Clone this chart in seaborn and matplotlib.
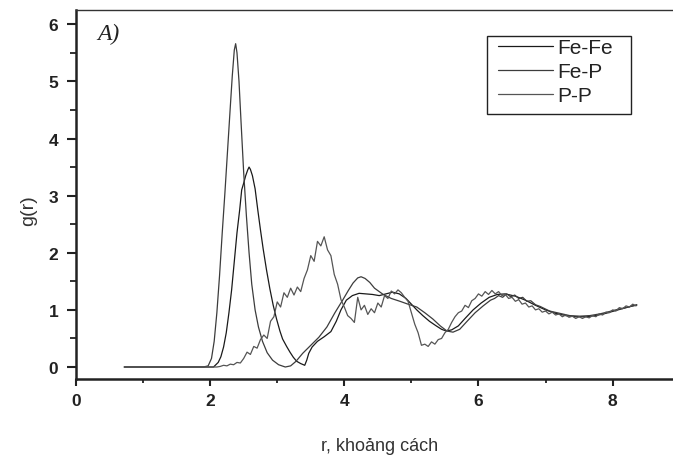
import numpy as np
import pandas as pd
import matplotlib
matplotlib.use("Agg")
import matplotlib.pyplot as plt
import seaborn as sns
from matplotlib.ticker import MultipleLocator
from matplotlib.patches import Rectangle

# ---------------- data ----------------
series_names = ["Fe-Fe", "Fe-P", "P-P"]

fep_r = [0.72, 1.90, 1.97, 2.02, 2.06, 2.10, 2.14, 2.18, 2.22, 2.26, 2.30, 2.33, 2.36, 2.38,
         2.40, 2.43, 2.46, 2.50, 2.54, 2.58, 2.62, 2.67, 2.72, 2.78, 2.85, 2.93, 3.02, 3.12,
         3.20, 3.28, 3.38, 3.50, 3.62, 3.74, 3.86, 3.98, 4.06, 4.13, 4.20, 4.25, 4.31, 4.38,
         4.45, 4.58, 4.70, 4.83, 4.95, 5.08, 5.20, 5.32, 5.43, 5.53, 5.62, 5.72, 5.83, 5.95,
         6.07, 6.18, 6.24, 6.30, 6.36, 6.42, 6.48, 6.54, 6.60, 6.66, 6.72, 6.78, 6.85, 6.92,
         7.06, 7.21, 7.36, 7.51, 7.66, 7.81, 7.95, 8.08, 8.20, 8.30, 8.36]
fep_g = [0.0, 0.0, 0.02, 0.15, 0.45, 0.95, 1.6, 2.35, 3.05, 3.8, 4.55, 5.1, 5.55, 5.66,
         5.5, 5.0, 4.3, 3.4, 2.65, 2.0, 1.45, 1.0, 0.7, 0.45, 0.25, 0.12, 0.04, 0.0,
         0.02, 0.1, 0.24, 0.38, 0.52, 0.7, 0.95, 1.18, 1.34, 1.47, 1.56, 1.58, 1.55, 1.48,
         1.38, 1.27, 1.2, 1.15, 1.1, 1.05, 0.95, 0.84, 0.72, 0.63, 0.61, 0.66, 0.8, 0.95,
         1.07, 1.17, 1.2, 1.25, 1.22, 1.28, 1.23, 1.26, 1.2, 1.22, 1.15, 1.16, 1.09, 1.06,
         0.98, 0.94, 0.9, 0.89, 0.9, 0.93, 0.97, 1.01, 1.04, 1.07, 1.08]

fefe_r = [0.72, 1.98, 2.05, 2.12, 2.16, 2.20, 2.24, 2.28, 2.32, 2.36, 2.40, 2.44, 2.47, 2.50,
          2.53, 2.56, 2.58, 2.60, 2.63, 2.67, 2.71, 2.75, 2.79, 2.84, 2.89, 2.94, 2.99, 3.04,
          3.08, 3.14, 3.19, 3.24, 3.29, 3.35, 3.41, 3.44, 3.47, 3.52, 3.60, 3.70, 3.80, 3.88,
          3.95, 4.03, 4.12, 4.22, 4.32, 4.42, 4.52, 4.62, 4.72, 4.82, 4.92, 5.00, 5.08, 5.17,
          5.27, 5.37, 5.45, 5.52, 5.60, 5.70, 5.80, 5.92, 6.04, 6.16, 6.28, 6.40, 6.55, 6.70,
          6.85, 7.00, 7.15, 7.30, 7.45, 7.60, 7.75, 7.90, 8.05, 8.20, 8.30, 8.36]
fefe_g = [0.0, 0.0, 0.0, 0.08, 0.18, 0.35, 0.6, 0.95, 1.35, 1.85, 2.35, 2.75, 3.1, 3.22,
          3.35, 3.45, 3.5, 3.46, 3.35, 3.12, 2.75, 2.4, 2.07, 1.7, 1.37, 1.08, 0.84, 0.63,
          0.49, 0.36, 0.26, 0.17, 0.1, 0.06, 0.03, 0.12, 0.24, 0.35, 0.45, 0.53, 0.62, 0.8,
          1.0, 1.17, 1.25, 1.29, 1.28, 1.27, 1.25, 1.28, 1.31, 1.28, 1.2, 1.1, 1.0, 0.9,
          0.8, 0.72, 0.66, 0.63, 0.65, 0.72, 0.85, 1.0, 1.12, 1.22, 1.27, 1.28, 1.24, 1.17,
          1.08, 1.0, 0.94, 0.9, 0.88, 0.88, 0.9, 0.94, 0.99, 1.04, 1.07, 1.09]

pp_r = [0.72, 2.05] + list(np.round(np.arange(2.10, 8.36, 0.05), 2))
pp_g = [0.0, 0.0,
        0.0, 0.01, 0.03, 0.02, 0.05, 0.04, 0.08, 0.07,
        0.15, 0.26, 0.22, 0.36, 0.33, 0.48, 0.56, 0.5, 0.8, 0.88,
        1.14, 1.05, 1.3, 1.22, 1.38, 1.26, 1.4, 1.32, 1.55, 1.7,
        1.95, 1.85, 2.2, 2.12, 2.28, 2.05, 1.95, 1.62, 1.45, 1.18,
        1.05, 0.9, 0.85, 0.78, 1.22, 1.0, 1.08, 0.92, 1.02, 0.95,
        1.12, 1.05, 1.25, 1.2, 1.33, 1.28, 1.35, 1.3, 1.22, 1.15,
        0.95, 0.75, 0.6, 0.38, 0.4, 0.36, 0.44, 0.4, 0.48, 0.5,
        0.6, 0.66, 0.78, 0.88, 0.95, 0.98, 1.08, 1.04, 1.16, 1.2,
        1.28, 1.24, 1.32, 1.27, 1.34, 1.28, 1.32, 1.25, 1.27, 1.2,
        1.22, 1.15, 1.18, 1.1, 1.12, 1.05, 1.07, 1.0, 1.02, 0.96,
        0.98, 0.93, 0.96, 0.91, 0.93, 0.88, 0.91, 0.87, 0.89, 0.85,
        0.88, 0.85, 0.88, 0.86, 0.9, 0.88, 0.93, 0.91, 0.96, 0.95,
        1.0, 0.98, 1.04, 1.02, 1.07, 1.05, 1.1, 1.07]

x_ticks = [0, 2, 4, 6, 8]
y_ticks = [0, 1, 2, 3, 4, 5, 6]

# ---------------- build table ----------------
frames = []
for name, r, g in [("Fe-Fe", fefe_r, fefe_g), ("Fe-P", fep_r, fep_g), ("P-P", pp_r, pp_g)]:
    n = min(len(r), len(g))
    frames.append(pd.DataFrame({"r": r[:n], "g": g[:n], "pair": name}))
df = pd.concat(frames, ignore_index=True)

# ---------------- plot ----------------
sns.set_theme(style="ticks")
plt.rcParams["font.family"] = ["Liberation Sans", "DejaVu Sans"]

W, H = 673, 460
ax_left, ax_top, ax_bottom = 76, 11, 380
fig = plt.figure(figsize=(W / 100, H / 100), dpi=100)
ax = fig.add_axes([ax_left / W, (H - ax_bottom) / H, (W - ax_left) / W,
                   (ax_bottom - ax_top) / H])
ax_w = W - ax_left
ax_h = ax_bottom - ax_top


def axpt(px, py):
    """figure pixel (from top-left) -> axes fraction"""
    return ((px - ax_left) / ax_w, (ax_bottom - py) / ax_h)


palette = {"Fe-Fe": "#1a1a1a", "Fe-P": "#3c3c3c", "P-P": "#555555"}
sns.lineplot(data=df, x="r", y="g", hue="pair", hue_order=series_names,
             palette=palette, estimator=None, sort=False, linewidth=0.9, ax=ax)

ax.set_xlim(0, 8.9)
ax.set_ylim(-0.21, 6.25)
ax.set_xticks(x_ticks)
ax.set_yticks(y_ticks)
ax.xaxis.set_minor_locator(MultipleLocator(1))
ax.yaxis.set_minor_locator(MultipleLocator(0.5))
ax.tick_params(axis="y", which="major", direction="out", length=6.7, width=1.5,
               color="#222222", labelsize=12.5, pad=6)
ax.tick_params(axis="y", which="minor", direction="out", length=4, width=1.3, color="#222222")
ax.tick_params(axis="x", which="major", direction="out", length=5, width=1.5,
               color="#222222", labelsize=12.5, pad=5)
ax.tick_params(axis="x", which="minor", direction="out", length=2.7, width=1.3, color="#222222")
for lab in ax.get_xticklabels() + ax.get_yticklabels():
    lab.set_fontweight("bold")
    lab.set_color("#222222")

for s in ["left", "bottom"]:
    ax.spines[s].set_linewidth(1.8)
    ax.spines[s].set_color("#222222")
ax.spines["top"].set_linewidth(1.0)
ax.spines["top"].set_color("#333333")
ax.spines["right"].set_visible(False)

ax.set_xlabel("r, khoảng cách", fontsize=13, color="#333333")
ax.xaxis.label.set_va("center")
ax.xaxis.set_label_coords(*axpt(380, 447))
ax.set_ylabel("g(r)", fontsize=14, color="#333333")
ax.yaxis.label.set_va("center")
ax.yaxis.set_label_coords(*axpt(29, 211))

ax.text(*axpt(97, 34), "A)", transform=ax.transAxes,
        fontsize=17, style="italic", family="Liberation Serif", color="#222222",
        va="center", ha="left")

# legend: frame drawn as a rectangle, entries placed inside it
ax.add_patch(Rectangle(axpt(487, 115), (631 - 487) / ax_w, (115 - 37) / ax_h,
                       transform=ax.transAxes, fill=False, edgecolor="#222222",
                       linewidth=1.0, zorder=5, clip_on=False))
handles, labels = ax.get_legend_handles_labels()
leg = ax.legend(handles, labels, loc="upper left",
                bbox_to_anchor=axpt(498, 39),
                frameon=False, fontsize=15,
                handlelength=2.65, handletextpad=0.2, labelspacing=0.24,
                borderpad=0.0, borderaxespad=0.0)
for t in leg.get_texts():
    t.set_color("#222222")

fig.savefig("out.png", dpi=100)
